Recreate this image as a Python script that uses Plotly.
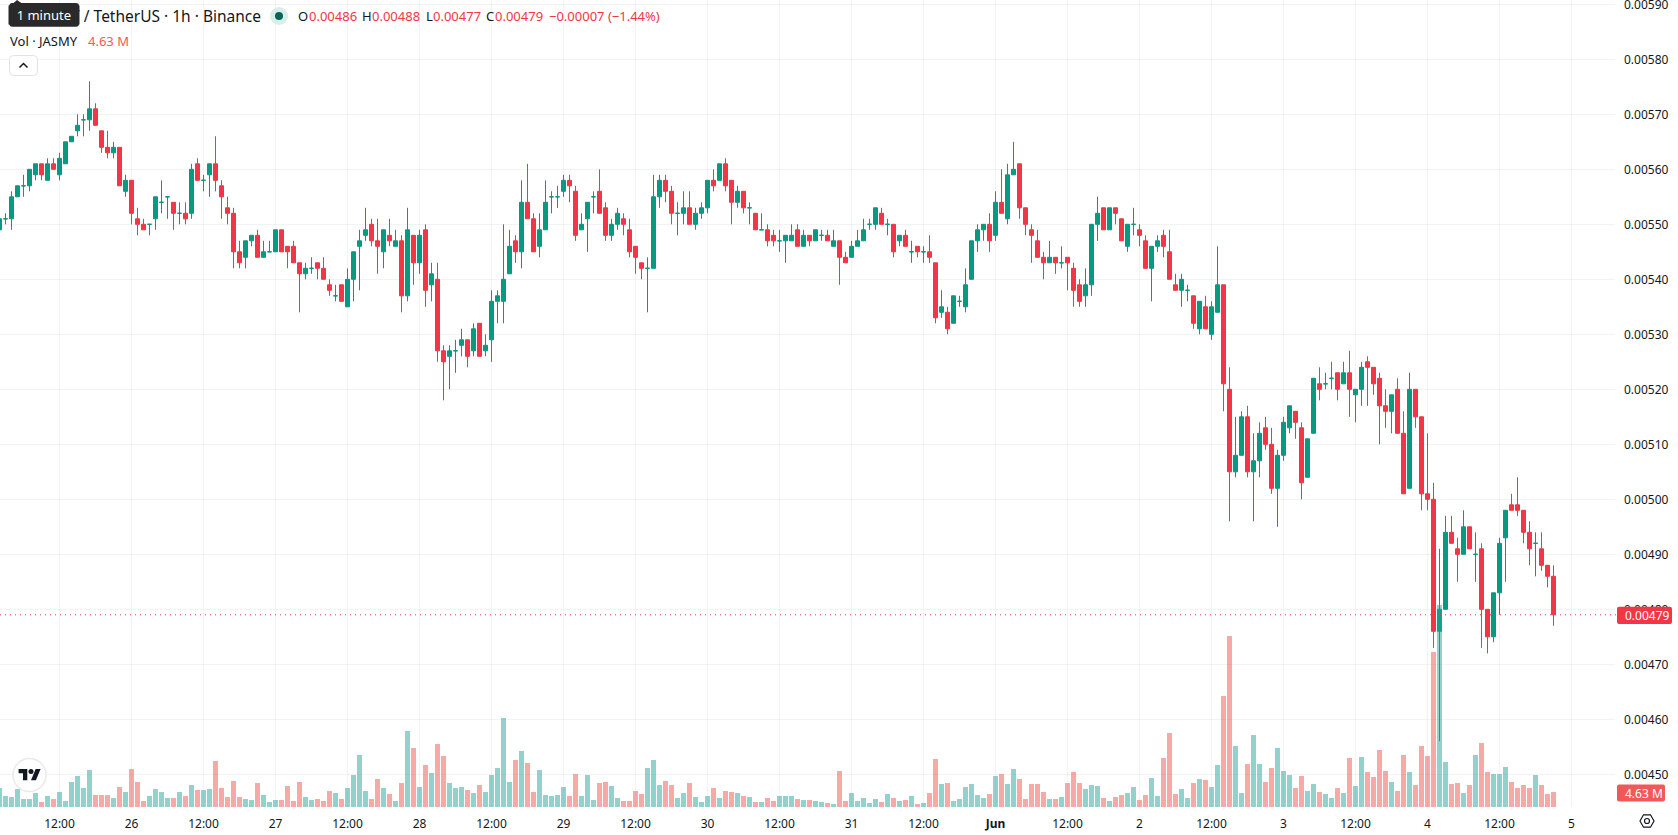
import datetime as dt
import plotly.graph_objects as go

# JASMY/USDT hourly candles, quoted in ticks of 0.00001
TICK = 0.00001
FIRST_CANDLE = dt.datetime(2023, 5, 25, 2, 0)

OPEN = [
    549, 551, 551, 555, 557, 557, 559, 561, 558, 561, 559, 561, 565, 567, 569, 569, 571, 567, 564, 563,
    564, 556, 558, 551, 550, 550, 551, 554, 555, 554, 552, 552, 552, 561, 558, 559, 561, 557, 553, 552,
    545, 544, 547, 548, 544, 545, 545, 549, 546, 546, 543, 541, 542, 543, 542, 539, 537, 539, 535, 540,
    546, 548, 550, 547, 545, 548, 546, 547, 537, 548, 543, 549, 539, 540, 527, 526, 527, 528, 529, 527,
    532, 527, 529, 536, 536, 541, 547, 545, 554, 551, 546, 549, 555, 555, 556, 558, 556, 549, 551, 555,
    556, 553, 548, 550, 551, 549, 546, 543, 542, 542, 555, 558, 556, 552, 552, 553, 550, 552, 553, 558,
    558, 561, 558, 554, 556, 553, 552, 549, 549, 548, 547, 547, 547, 549, 546, 548, 547, 548, 548, 546,
    547, 544, 544, 546, 547, 550, 550, 552, 550, 550, 547, 548, 545, 546, 545, 545, 543, 534, 534, 532,
    536, 535, 540, 547, 549, 550, 548, 554, 551, 559, 561, 553, 549, 547, 544, 543, 544, 543, 544, 542,
    539, 537, 539, 550, 553, 549, 553, 551, 546, 550, 549, 547, 542, 546, 548, 545, 539, 538, 538, 537,
    531, 535, 530, 534, 539, 520, 505, 508, 515, 505, 507, 513, 510, 502, 508, 513, 516, 513, 504, 512,
    521, 521, 522, 523, 521, 523, 519, 520, 525, 524, 522, 517, 516, 520, 512, 502, 520, 515, 501, 500,
    476, 480, 494, 491, 490, 495, 490, 491, 480, 475, 483, 493, 499, 499, 498, 494, 492, 491, 488, 486,
]
HIGH = [
    551, 552, 556, 557, 559, 560, 561, 561, 562, 562, 563, 565, 566, 570, 570, 576, 572, 567, 567, 565,
    564, 559, 558, 553, 551, 550, 555, 558, 555, 554, 554, 554, 561, 562, 559, 561, 566, 558, 555, 553,
    547, 547, 548, 549, 547, 547, 549, 549, 546, 547, 543, 543, 544, 543, 544, 540, 539, 539, 542, 545,
    549, 553, 551, 551, 549, 551, 549, 548, 553, 548, 549, 550, 543, 543, 528, 528, 529, 531, 529, 532,
    532, 530, 538, 538, 550, 549, 548, 558, 561, 552, 552, 558, 556, 557, 559, 559, 557, 552, 554, 556,
    560, 554, 551, 553, 552, 551, 546, 543, 544, 559, 559, 559, 557, 554, 556, 556, 553, 554, 558, 560,
    561, 562, 558, 557, 556, 554, 552, 552, 550, 549, 549, 548, 550, 550, 549, 548, 549, 549, 549, 549,
    547, 545, 547, 549, 551, 551, 553, 553, 551, 550, 548, 549, 547, 546, 546, 548, 543, 538, 535, 537,
    537, 542, 547, 550, 550, 552, 556, 560, 561, 565, 561, 553, 550, 549, 545, 547, 544, 546, 544, 543,
    540, 542, 550, 555, 553, 553, 553, 551, 550, 553, 550, 548, 546, 548, 549, 549, 541, 541, 539, 537,
    536, 537, 536, 546, 539, 524, 515, 516, 517, 512, 514, 515, 513, 509, 515, 517, 516, 514, 511, 522,
    524, 523, 525, 523, 525, 527, 520, 525, 526, 524, 523, 520, 519, 522, 516, 523, 520, 515, 512, 503,
    491, 497, 497, 493, 498, 495, 494, 492, 480, 483, 493, 498, 501, 504, 498, 496, 494, 494, 488, 488,
]
LOW = [
    549, 550, 549, 555, 555, 556, 558, 558, 558, 560, 558, 561, 565, 566, 566, 567, 568, 563, 562, 562,
    557, 555, 550, 548, 549, 548, 549, 552, 551, 549, 550, 550, 551, 558, 556, 555, 556, 551, 550, 542,
    542, 542, 546, 544, 544, 545, 545, 545, 542, 543, 534, 540, 541, 540, 540, 537, 536, 536, 535, 536,
    538, 547, 546, 541, 542, 546, 546, 534, 536, 539, 541, 535, 536, 525, 518, 520, 523, 526, 524, 526,
    526, 526, 525, 532, 532, 541, 543, 542, 551, 545, 544, 549, 552, 553, 555, 554, 547, 549, 545, 552,
    552, 547, 547, 549, 548, 544, 541, 540, 534, 542, 553, 554, 550, 548, 550, 550, 549, 551, 552, 556,
    558, 556, 550, 553, 552, 550, 549, 549, 546, 546, 545, 543, 547, 546, 546, 546, 547, 547, 547, 546,
    539, 543, 544, 546, 547, 549, 549, 550, 548, 544, 546, 546, 543, 544, 543, 543, 532, 533, 530, 532,
    535, 534, 540, 545, 547, 545, 547, 552, 550, 559, 551, 548, 543, 544, 540, 543, 541, 542, 538, 535,
    535, 535, 537, 547, 549, 549, 550, 547, 545, 548, 546, 542, 536, 545, 544, 540, 538, 535, 536, 531,
    530, 531, 529, 534, 516, 496, 504, 508, 504, 496, 504, 509, 501, 495, 507, 512, 511, 500, 504, 512,
    518, 520, 520, 518, 521, 515, 514, 517, 517, 519, 510, 513, 512, 512, 501, 502, 513, 498, 498, 473,
    456, 480, 492, 485, 490, 491, 485, 473, 472, 474, 479, 485, 498, 497, 492, 488, 486, 487, 484, 477,
]
CLOSE = [
    551, 551, 555, 557, 557, 560, 561, 559, 561, 560, 562, 565, 566, 568, 569, 571, 568, 564, 563, 564,
    557, 558, 552, 550, 549, 550, 555, 554, 555, 552, 552, 551, 560, 558, 558, 561, 558, 555, 552, 545,
    543, 547, 548, 544, 545, 545, 549, 545, 545, 543, 541, 542, 542, 542, 540, 538, 537, 536, 540, 545,
    547, 549, 547, 546, 549, 547, 547, 537, 549, 543, 548, 538, 541, 527, 525, 527, 527, 529, 526, 531,
    526, 528, 536, 537, 540, 546, 545, 554, 551, 545, 549, 554, 555, 555, 558, 557, 548, 550, 554, 555,
    552, 548, 550, 552, 550, 545, 544, 542, 542, 555, 558, 556, 552, 552, 553, 550, 552, 553, 558, 557,
    561, 557, 554, 556, 553, 553, 549, 549, 547, 547, 547, 548, 548, 546, 548, 547, 549, 548, 547, 547,
    544, 543, 546, 547, 549, 550, 553, 550, 550, 545, 548, 546, 545, 545, 545, 544, 533, 535, 531, 537,
    536, 539, 547, 549, 550, 547, 554, 552, 559, 560, 553, 550, 548, 544, 543, 544, 543, 543, 543, 538,
    536, 539, 550, 552, 549, 553, 552, 547, 550, 550, 548, 542, 546, 547, 546, 540, 538, 540, 538, 532,
    536, 531, 535, 539, 521, 505, 508, 515, 505, 507, 512, 510, 502, 508, 514, 517, 514, 503, 511, 522,
    520, 521, 522, 520, 523, 520, 520, 524, 524, 521, 517, 516, 519, 512, 501, 520, 515, 501, 500, 476,
    480, 494, 492, 490, 495, 491, 490, 480, 475, 483, 492, 498, 498, 498, 494, 491, 492, 488, 486, 479,
]
# Hourly traded volume, millions of JASMY
VOLUME = [
    5.87, 3.40, 3.09, 5.56, 2.47, 2.47, 4.32, 1.54, 3.40, 2.47, 4.63, 1.85, 7.72, 9.57, 5.87, 11.42, 3.70, 3.70, 3.70, 2.78,
    6.17, 4.63, 11.73, 7.72, 1.85, 3.40, 5.56, 4.63, 2.78, 2.78, 4.63, 3.40, 6.79, 5.25, 5.25, 5.56, 14.20, 5.87, 3.09, 8.03,
    3.09, 2.47, 2.16, 7.41, 3.70, 1.54, 2.16, 2.16, 6.48, 1.85, 7.72, 3.09, 2.16, 2.47, 1.85, 4.94, 4.32, 2.47, 5.87, 9.88,
    16.05, 4.94, 2.47, 8.64, 5.87, 4.01, 1.85, 7.41, 23.46, 18.21, 6.17, 12.97, 10.50, 19.45, 15.74, 7.41, 5.87, 6.17, 5.25, 4.32,
    6.79, 4.63, 9.88, 12.04, 27.47, 7.72, 14.51, 17.29, 13.58, 4.63, 11.42, 3.70, 3.40, 3.70, 6.17, 3.40, 10.19, 3.40, 9.88, 2.16,
    7.41, 7.72, 6.48, 2.78, 1.85, 1.85, 4.94, 4.01, 12.04, 14.51, 6.79, 8.03, 6.79, 2.78, 4.32, 7.41, 3.09, 1.54, 3.40, 5.87,
    2.78, 4.94, 4.63, 4.32, 3.40, 3.09, 1.54, 1.54, 2.78, 1.85, 3.40, 3.40, 3.40, 2.47, 2.16, 2.16, 1.85, 1.54, 1.23, 0.93,
    11.11, 1.85, 4.32, 1.85, 2.78, 1.23, 2.47, 1.54, 4.01, 2.78, 1.85, 2.16, 3.40, 0.93, 1.23, 4.32, 14.82, 7.10, 7.41, 1.85,
    2.47, 6.17, 7.10, 3.70, 2.78, 4.01, 9.57, 10.19, 7.10, 11.73, 8.64, 2.47, 7.10, 7.10, 4.63, 2.47, 2.47, 3.09, 7.41, 10.80,
    7.41, 5.56, 6.79, 6.48, 2.78, 1.85, 3.09, 3.70, 4.32, 6.17, 2.16, 3.70, 8.95, 3.40, 15.13, 22.84, 4.01, 5.56, 2.78, 7.41,
    8.64, 8.33, 6.17, 12.97, 34.27, 52.79, 18.83, 4.32, 13.27, 22.23, 13.27, 7.72, 12.04, 18.21, 11.11, 9.88, 5.87, 9.57, 4.94, 7.10,
    4.63, 4.01, 2.78, 5.87, 4.32, 15.13, 6.48, 15.44, 10.80, 9.26, 17.60, 11.11, 7.72, 4.94, 16.05, 10.80, 6.79, 18.83, 15.74, 47.85,
    62.36, 13.89, 7.10, 7.41, 4.32, 6.79, 16.05, 19.76, 10.80, 10.19, 10.19, 12.35, 7.72, 5.87, 6.79, 5.87, 9.88, 6.79, 4.01, 4.63,
]

TIME_TICKS = [
    "2023-05-25 12:00", "2023-05-26 00:00", "2023-05-26 12:00", "2023-05-27 00:00", "2023-05-27 12:00",
    "2023-05-28 00:00", "2023-05-28 12:00", "2023-05-29 00:00", "2023-05-29 12:00", "2023-05-30 00:00",
    "2023-05-30 12:00", "2023-05-31 00:00", "2023-05-31 12:00", "2023-06-01 00:00", "2023-06-01 12:00",
    "2023-06-02 00:00", "2023-06-02 12:00", "2023-06-03 00:00", "2023-06-03 12:00", "2023-06-04 00:00",
    "2023-06-04 12:00", "2023-06-05 00:00",
]
TIME_LABELS = [
    "12:00", "26", "12:00", "27", "12:00", "28", "12:00", "29", "12:00", "30", "12:00", "31", "12:00",
    "<b>Jun</b>", "12:00", "2", "12:00", "3", "12:00", "4", "12:00", "5",
]

LAST_PRICE_TICKS = 479
LAST_VOLUME_TEXT = "4.63 M"

UP = "#089981"
DOWN = "#F23645"
VOL_UP = "rgba(38,166,154,0.5)"
VOL_DOWN = "rgba(239,83,80,0.5)"
GRID = "rgba(42,46,57,0.06)"
INK = "#131722"
TOOLTIP = "#2A2A2A"
FONT = "Noto Sans, sans-serif"

WIDTH, HEIGHT = 1678, 835
PLOT_W, PLOT_H = 1615, 807
HOUR = dt.timedelta(hours=1)

times = [FIRST_CANDLE + i * HOUR for i in range(len(OPEN))]
o = [v * TICK for v in OPEN]
h = [v * TICK for v in HIGH]
l = [v * TICK for v in LOW]
c = [v * TICK for v in CLOSE]
rising = [cl >= op for op, cl in zip(OPEN, CLOSE)]


def px(x):
    return x / PLOT_W


def py(y):
    return 1 - y / PLOT_H


def rounded_rect(x0, y0, x1, y1, r):
    return (
        f"M{px(x0 + r)},{py(y0)} L{px(x1 - r)},{py(y0)} Q{px(x1)},{py(y0)} {px(x1)},{py(y0 + r)} "
        f"L{px(x1)},{py(y1 - r)} Q{px(x1)},{py(y1)} {px(x1 - r)},{py(y1)} "
        f"L{px(x0 + r)},{py(y1)} Q{px(x0)},{py(y1)} {px(x0)},{py(y1 - r)} "
        f"L{px(x0)},{py(y0 + r)} Q{px(x0)},{py(y0)} {px(x0 + r)},{py(y0)} Z"
    )


def polygon(points):
    head, *rest = points
    return f"M{px(head[0])},{py(head[1])} " + " ".join(f"L{px(a)},{py(b)}" for a, b in rest) + " Z"


def polyline(points):
    head, *rest = points
    return f"M{px(head[0])},{py(head[1])} " + " ".join(f"L{px(a)},{py(b)}" for a, b in rest)


def circle(cx, cy, r, **style):
    return dict(type="circle", xref="paper", yref="paper", x0=px(cx - r), x1=px(cx + r),
                y0=py(cy + r), y1=py(cy - r), **style)


def box_path(path, **style):
    return dict(type="path", xref="paper", yref="paper", path=path, **style)


def label(x, y, text, color=INK, size=13, anchor="left"):
    return dict(xref="paper", yref="paper", x=px(x), y=py(y), text=text, showarrow=False, borderpad=0,
                xanchor=anchor, yanchor="middle", font=dict(family=FONT, size=size, color=color))


fig = go.Figure()

fig.add_trace(go.Bar(
    x=times, y=VOLUME, yaxis="y2", width=3.0e6,
    marker=dict(color=[VOL_UP if r else VOL_DOWN for r in rising], line_width=0),
    hoverinfo="skip", showlegend=False,
))

# Rising and falling candles are separate traces so flat candles keep the rising colour
for color, keep in ((UP, True), (DOWN, False)):
    idx = [i for i, r in enumerate(rising) if r == keep]
    side = dict(line=dict(color=color, width=1), fillcolor=color)
    fig.add_trace(go.Candlestick(
        x=[times[i] for i in idx], open=[o[i] for i in idx], high=[h[i] for i in idx],
        low=[l[i] for i in idx], close=[c[i] for i in idx],
        increasing=side, decreasing=side, whiskerwidth=0, hoverinfo="skip", showlegend=False,
    ))

shapes = [
    # Last price line and the value tags on the price scale
    dict(type="line", xref="paper", yref="y", x0=0, x1=px(1617), y0=LAST_PRICE_TICKS * TICK,
         y1=LAST_PRICE_TICKS * TICK, line=dict(color=DOWN, width=1, dash="1px,4px")),
    box_path(rounded_rect(1617, 606.7, 1672, 624, 2), fillcolor=DOWN, line_width=0),
    box_path(rounded_rect(1617, 784.5, 1665, 801.5, 2), fillcolor="#F0585A", line_width=0),
    # Header: tooltip, live-status dot, collapse button
    box_path(polygon([(13, 3.5), (17, 0), (22, 3.5)]), fillcolor=TOOLTIP, line_width=0),
    box_path(rounded_rect(9.3, 3, 79, 26.7, 3), fillcolor=TOOLTIP, line_width=0),
    circle(279, 16, 9, fillcolor="#D9EEEB", line_width=0),
    circle(279, 16, 4, fillcolor="#056656", line_width=0),
    box_path(rounded_rect(9.5, 55.5, 37.5, 75.5, 4), fillcolor="white", line=dict(color="#E0E3EB", width=1)),
    box_path(polyline([(19.5, 67.5), (23.5, 63.5), (27.5, 67.5)]), line=dict(color=INK, width=1.5)),
    # Logo badge
    circle(29.5, 775, 16.5, fillcolor="white", line=dict(color="#E9EAEC", width=1.5)),
    box_path(polygon([(18.6, 769), (27.3, 769), (27.3, 780.2), (23, 780.2), (23, 773.3), (18.6, 773.3)]),
             fillcolor=INK, line_width=0),
    circle(31, 771.5, 2.5, fillcolor=INK, line_width=0),
    box_path(polygon([(31, 780.2), (35.7, 769), (40.6, 769), (35.9, 780.2)]), fillcolor=INK, line_width=0),
    # Settings icon at the corner of the scales
    box_path(polygon([(1640, 821), (1643.5, 814.8), (1650.5, 814.8), (1654, 821), (1650.5, 827.2), (1643.5, 827.2)]),
             line=dict(color=INK, width=1.2), fillcolor="rgba(0,0,0,0)"),
    circle(1647, 821, 2.5, line=dict(color=INK, width=1.2), fillcolor="rgba(0,0,0,0)"),
]

# The tooltip body is an annotation so it sits over the title, which runs beneath it
tooltip = label(44.15, 15, "1 minute", "white", 13, anchor="center")
tooltip.update(width=69.7, height=18, bgcolor=TOOLTIP)

annotations = [
    label(262, 16, "Y / TetherUS · 1h · Binance", size=15.5, anchor="right"),
    tooltip,
    label(297, 16, "O"), label(308, 16, "0.00486", DOWN),
    label(361, 16, "H"), label(371, 16, "0.00488", DOWN),
    label(425, 16, "L"), label(432, 16, "0.00477", DOWN),
    label(485, 16, "C"), label(494, 16, "0.00479", DOWN),
    label(548, 16, "−0.00007 (−1.44%)", DOWN),
    label(9, 41, "Vol · JASMY"),
    label(87, 41, LAST_VOLUME_TEXT, "#F0585A"),
    label(1624, 615.5, f"{LAST_PRICE_TICKS * TICK:.5f}", "white", 12),
    label(1624, 793, LAST_VOLUME_TEXT, "white", 12),
]

fig.update_layout(
    width=WIDTH, height=HEIGHT,
    margin=dict(l=0, r=WIDTH - PLOT_W, t=0, b=HEIGHT - PLOT_H, autoexpand=False),
    paper_bgcolor="white", plot_bgcolor="white", showlegend=False, bargap=0,
    boxmode="overlay", boxgap=1 / 3, boxgroupgap=0, font=dict(family=FONT, size=12, color=INK),
    xaxis=dict(
        type="date", range=["2023-05-25 02:05", "2023-06-05 07:15"], rangeslider_visible=False,
        tickmode="array", tickvals=TIME_TICKS, ticktext=TIME_LABELS, showgrid=True, gridcolor=GRID,
        gridwidth=1, zeroline=False, showline=False, ticks="", ticklabelstandoff=8, automargin=False,
        tickfont=dict(family=FONT, size=12, color=INK),
    ),
    yaxis=dict(
        side="right", range=[444.055 * TICK, 590.782 * TICK], tick0=0, dtick=0.0001, tickformat=".5f",
        showgrid=True, gridcolor=GRID, gridwidth=1, zeroline=False, showline=False, ticks="",
        ticklabelstandoff=8, ticklabeloverflow="allow", automargin=False,
        tickfont=dict(family=FONT, size=12, color=INK),
    ),
    yaxis2=dict(overlaying="y", side="left", range=[0, 249.1], visible=False, showgrid=False),
    shapes=shapes, annotations=annotations,
)

fig.write_html("out.html", config=dict(displayModeBar=False))
